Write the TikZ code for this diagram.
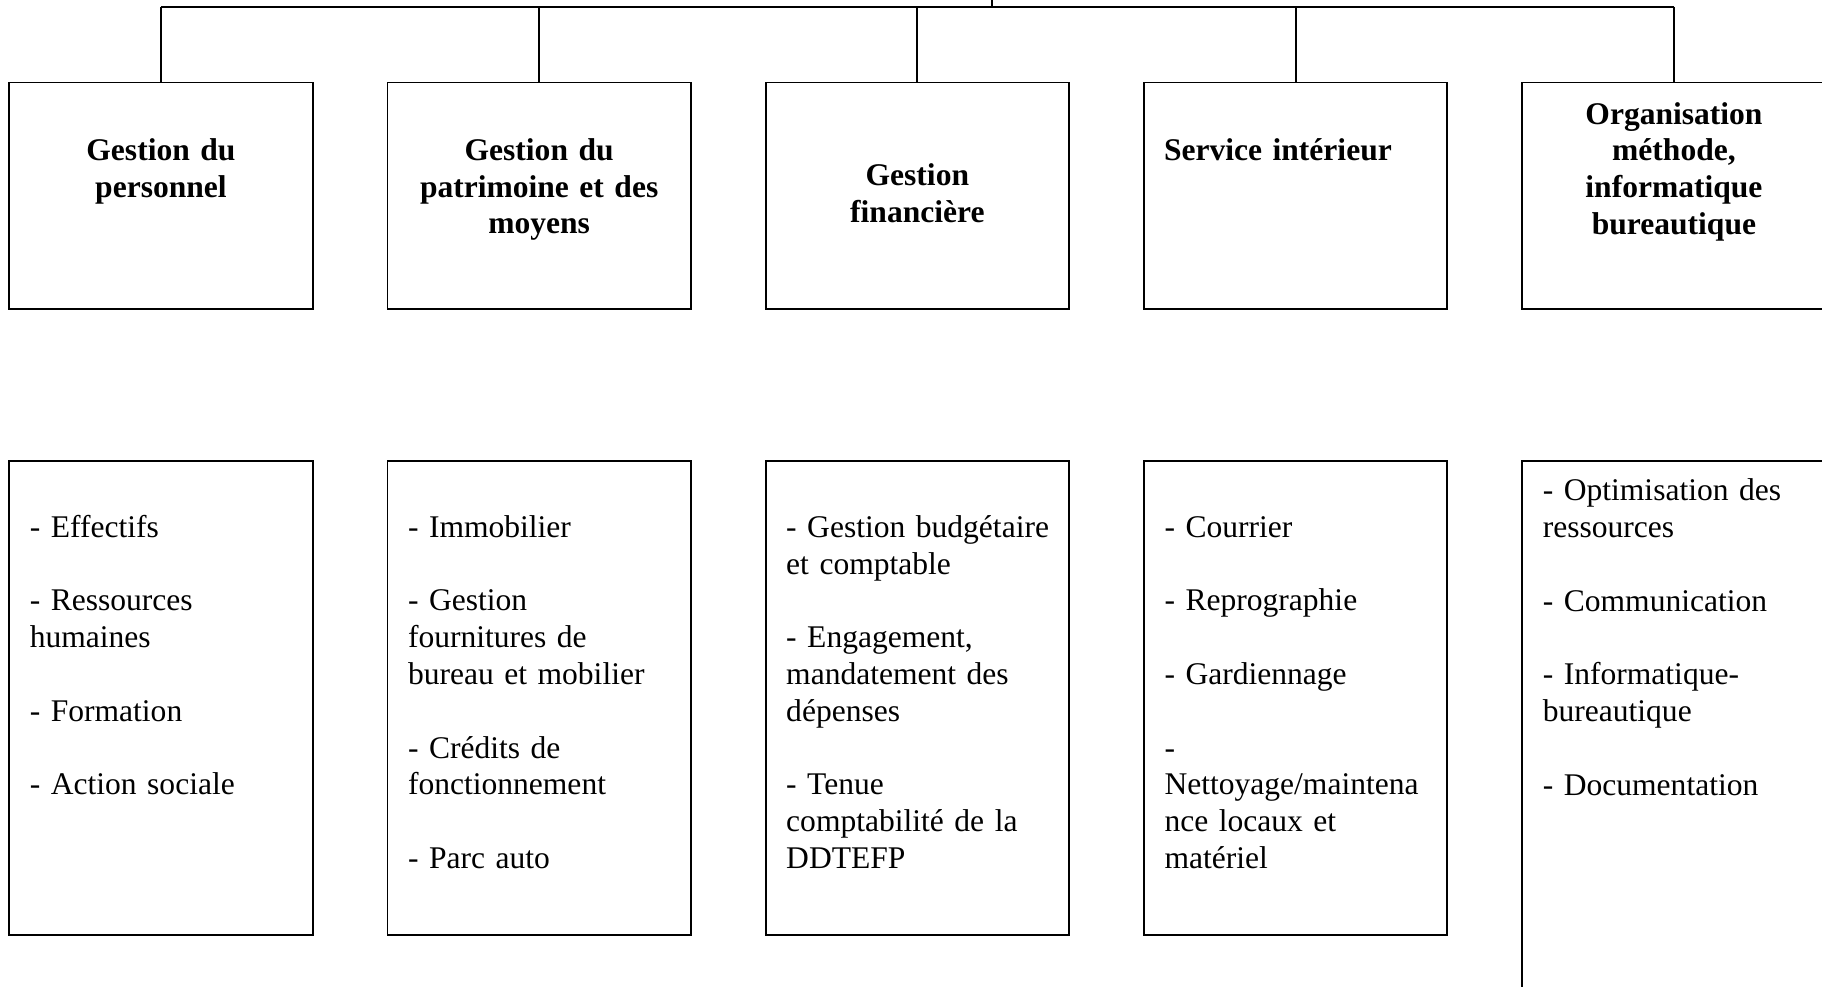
\documentclass[tikz,border=0pt]{standalone}
\usepackage{fontspec}
\setmainfont{Liberation Serif}
\begin{document}
\begin{tikzpicture}[x=0.3804pt,y=-0.3804pt,
  box/.style={draw,line width=0.75pt,inner sep=0pt,outer sep=0pt,anchor=north west,minimum width=115.4pt},
  topbox/.style={box,minimum height=86.3pt},
  lowbox/.style={box,minimum height=180.4pt},
  head/.style={font=\fontsize{12}{14}\selectfont\bfseries,align=center,text width=112pt,anchor=base,inner sep=0pt},
  headleft/.style={font=\fontsize{12}{14}\selectfont\bfseries,align=left,text width=112pt,anchor=base west,inner sep=0pt},
  item/.style={font=\fontsize{12}{14}\selectfont,align=left,text width=112pt,anchor=base west,inner sep=0pt},
  link/.style={line width=0.75pt}]
\useasboundingbox (0,0) rectangle (1822,987);
\clip (0,0) rectangle (1822,987);

% upper row: the five services
\node[topbox] (t1) at (9.3,82.5) {};
\node[topbox] (t2) at (387.5,82.5) {};
\node[topbox] (t3) at (765.7,82.5) {};
\node[topbox] (t4) at (1144,82.5) {};
\node[topbox] (t5) at (1522.3,82.5) {};

% lower row: the tasks of each service
\node[lowbox] (b1) at (9.3,460.7) {};
\node[lowbox] (b2) at (387.5,460.7) {};
\node[lowbox] (b3) at (765.7,460.7) {};
\node[lowbox] (b4) at (1144,460.7) {};
\node[box,minimum height=240pt] (b5) at (1522.3,460.7) {};

% tree lines from the head to the services
\coordinate (root) at (992,-2);
\coordinate (bus) at (992,6.7);
\draw[link] (root) -- (bus);
\draw[link] (t1.north |- bus) -- (t5.north |- bus);
\foreach \i in {1,...,5}{
  \draw[link] (t\i.north |- bus) -- (t\i.north);
}

% service titles
\node[head] (h1) at (160.95,160.3) {Gestion du\\personnel};
\node[head] (h2) at (539.15,160.3) {Gestion du\\patrimoine et des\\moyens};
\node[head] (h3) at (917.35,185.9) {Gestion\\financière};
\node[headleft] (h4) at (1163.5,160.3) {Service intérieur};
\node[head] (h5) at (1673.95,124.1) {Organisation\\méthode,\\informatique\\bureautique};

% task lists
\node[item] (l1) at (29.3,537.3) {- Effectifs\\[14pt]- Ressources\\humaines\\[14pt]- Formation\\[14pt]- Action sociale};
\node[item] (l2) at (407.5,537.3) {- Immobilier\\[14pt]- Gestion\\fournitures de\\bureau et mobilier\\[14pt]- Crédits de\\fonctionnement\\[14pt]- Parc auto};
\node[item] (l3) at (785.7,537.3) {- Gestion budgétaire\\et comptable\\[14pt]- Engagement,\\mandatement des\\dépenses\\[14pt]- Tenue\\comptabilité de la\\DDTEFP};
\node[item] (l4) at (1164,537.3) {- Courrier\\[14pt]- Reprographie\\[14pt]- Gardiennage\\[14pt]-\\Nettoyage/maintena\\nce locaux et\\matériel};
\node[item] (l5) at (1542.3,500.6) {- Optimisation des\\ressources\\[14pt]- Communication\\[14pt]- Informatique-\\bureautique\\[14pt]- Documentation};
\end{tikzpicture}
\end{document}
